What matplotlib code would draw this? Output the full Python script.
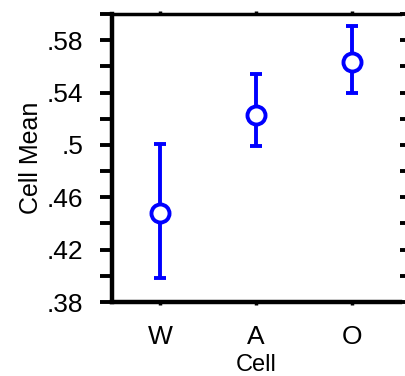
import matplotlib
matplotlib.use("Agg")
import matplotlib.pyplot as plt
import numpy as np

plt.rcParams['font.family'] = ['Liberation Sans', 'DejaVu Sans']

categories = ['W', 'A', 'O']
means = [0.448, 0.523, 0.563]
lower = [0.398, 0.499, 0.540]
upper = [0.501, 0.554, 0.591]
ytick_vals = [0.38, 0.40, 0.42, 0.44, 0.46, 0.48, 0.50, 0.52, 0.54, 0.56, 0.58, 0.60]
ytick_labels = ['.38', '', '.42', '', '.46', '', '.5', '', '.54', '', '.58', '']

fig = plt.figure(figsize=(4.06, 3.76), dpi=100)
ax = fig.add_axes([112/406, 74/376, 288/406, 288/376])

x = np.arange(len(categories))
m = np.array(means)
yerr = np.array([m - np.array(lower), np.array(upper) - m])
blue = '#0000ff'
ax.errorbar(x, m, yerr=yerr, fmt='o', color=blue, ecolor=blue, elinewidth=2.8,
            capsize=4, capthick=2.8, markersize=13, markerfacecolor='white',
            markeredgecolor=blue, markeredgewidth=2.8, zorder=3)

ax.set_xlim(-0.5, 2.5)
ax.set_ylim(0.38, 0.60)
ax.set_xticks(x)
ax.set_xticklabels(categories, fontsize=19)
ax.set_yticks(ytick_vals)
ax.set_yticklabels(ytick_labels, fontsize=19)

ax.spines['left'].set_linewidth(3.2)
ax.spines['bottom'].set_linewidth(3.2)
ax.spines['top'].set_linewidth(2.5)
ax.spines['right'].set_visible(False)

ax.tick_params(axis='y', which='both', left=True, right=True, direction='out',
               length=8.5, width=2.8, pad=12)
ax.tick_params(axis='x', which='both', bottom=True, top=True, direction='out',
               length=2.5, width=2.5, pad=14)

ax.set_xlabel('Cell', fontsize=17, labelpad=4)
ax.set_ylabel('Cell Mean', fontsize=18, labelpad=2.5)

fig.savefig('out.png', dpi=100)
